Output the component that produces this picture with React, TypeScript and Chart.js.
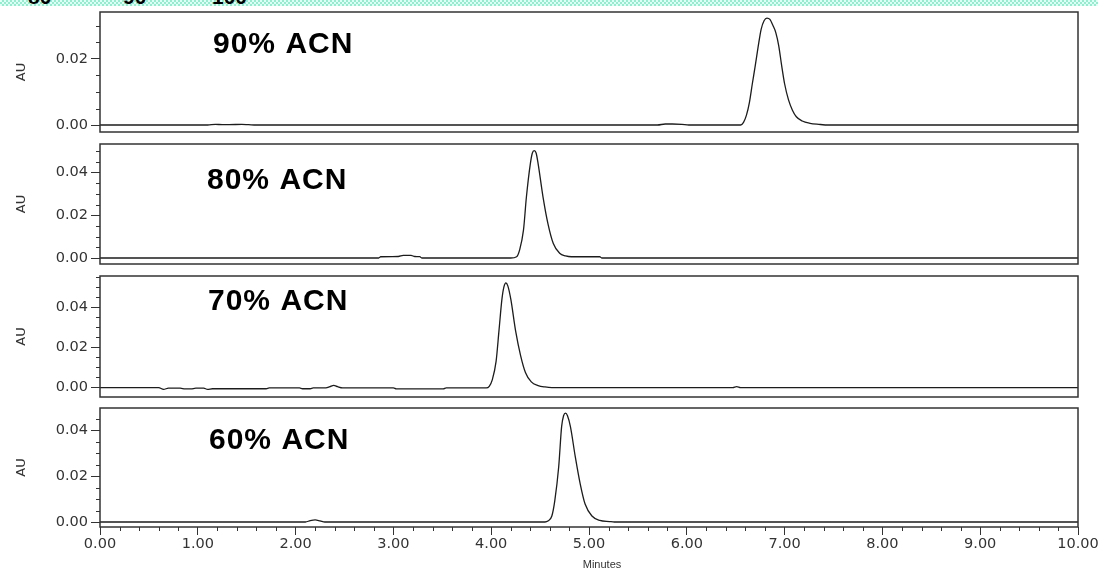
import React, { useEffect, useRef } from 'react';
import { Chart, registerables } from 'chart.js';

Chart.register(...registerables);

// Chromatogram traces: retention time (min) and absorbance (AU)
const acn90Minutes = [0, 1.10, 1.18, 1.25, 1.32, 1.45, 1.52, 1.60, 5.70, 5.78, 5.85, 5.95, 6.02, 6.55, 6.58, 6.61, 6.64, 6.67, 6.70, 6.73, 6.76, 6.79, 6.82, 6.85, 6.88, 6.91, 6.94, 6.97, 7.00, 7.04, 7.08, 7.12, 7.18, 7.26, 7.35, 7.45, 10];
const acn90AU = [0, 0, 0.0002, 0.0001, 0.0001, 0.0002, 0.0001, 0, 0, 0.0003, 0.0003, 0.0002, 0, 0, 0.0008, 0.0030, 0.0068, 0.0125, 0.0180, 0.0238, 0.0290, 0.0316, 0.0324, 0.0320, 0.0302, 0.0280, 0.0240, 0.0180, 0.0125, 0.0076, 0.0045, 0.0025, 0.0012, 0.0005, 0.0002, 0, 0];

const acn80Minutes = [0, 2.85, 2.87, 3.05, 3.10, 3.18, 3.22, 3.27, 3.29, 4.20, 4.26, 4.29, 4.33, 4.36, 4.40, 4.42, 4.44, 4.46, 4.48, 4.53, 4.58, 4.635, 4.70, 4.76, 4.82, 5.11, 5.13, 10];
const acn80AU = [0, 0, 0.0006, 0.0007, 0.0012, 0.0012, 0.0007, 0.0006, 0, 0, 0.0006, 0.0037, 0.0130, 0.0285, 0.0440, 0.0490, 0.0502, 0.0490, 0.0440, 0.0285, 0.0161, 0.0068, 0.0022, 0.0010, 0.0006, 0.0006, 0, 0];

const acn70Minutes = [0, 0.60, 0.65, 0.70, 0.82, 0.87, 0.93, 0.98, 1.06, 1.10, 1.15, 1.70, 1.73, 2.04, 2.07, 2.15, 2.18, 2.31, 2.35, 2.39, 2.43, 2.48, 3.00, 3.03, 3.51, 3.54, 3.95, 3.98, 4.01, 4.05, 4.08, 4.11, 4.13, 4.15, 4.17, 4.20, 4.25, 4.30, 4.35, 4.41, 4.48, 4.55, 4.62, 6.47, 6.51, 6.55, 10];
const acn70AU = [0, 0, -0.0009, -0.0003, -0.0003, -0.0007, -0.0007, -0.0003, -0.0003, -0.0009, -0.0006, -0.0006, -0.0002, -0.0002, -0.0006, -0.0006, -0.0002, -0.0002, 0.0004, 0.0011, 0.0004, -0.0002, -0.0002, -0.0007, -0.0007, -0.0002, -0.0002, 0.0006, 0.0037, 0.0130, 0.0285, 0.0440, 0.0500, 0.0520, 0.0505, 0.0440, 0.0280, 0.0160, 0.0075, 0.0028, 0.0010, 0.0003, 0, 0, 0.0005, 0, 0];

const acn60Minutes = [0, 2.10, 2.15, 2.20, 2.25, 2.30, 4.55, 4.58, 4.62, 4.65, 4.69, 4.72, 4.74, 4.76, 4.78, 4.81, 4.86, 4.91, 4.96, 5.03, 5.11, 5.21, 5.26, 10];
const acn60AU = [0, 0, 0.0006, 0.0009, 0.0005, 0, 0, 0.0004, 0.0026, 0.0092, 0.0239, 0.0415, 0.0462, 0.0473, 0.0462, 0.0415, 0.0283, 0.0166, 0.0078, 0.0026, 0.0007, 0.0002, 0, 0];

const panelTitles = ['90% ACN', '80% ACN', '70% ACN', '60% ACN'];
const headerMarks = ['80', '90', '100'];
const xAxisTitle = 'Minutes';
const yAxisTitle = 'AU';

// Axis ticks
const minuteMajorStep = 1;
const minuteMinorTicks = [0.2, 0.4, 0.6, 0.8, 1.2, 1.4, 1.6, 1.8, 2.2, 2.4, 2.6, 2.8, 3.2, 3.4, 3.6, 3.8, 4.2, 4.4, 4.6, 4.8, 5.2, 5.4, 5.6, 5.8, 6.2, 6.4, 6.6, 6.8, 7.2, 7.4, 7.6, 7.8, 8.2, 8.4, 8.6, 8.8, 9.2, 9.4, 9.6, 9.8];
const auMajorStep = 0.02;
const auMinorTicks = [0.005, 0.01, 0.015, 0.025, 0.03, 0.035, 0.045, 0.05, 0.055];

const W = 1098;
const H = 572;
const AREA_LEFT = 100;
const AREA_RIGHT = 1078;
const INK = '#333333';

type PanelCfg = {
  title: string;
  minutes: number[];
  au: number[];
  yMin: number;
  yMax: number;
  top: number;
  bottom: number;
  titleX: number;
  titleBaseline: number;
};

const panels: PanelCfg[] = [
  { title: panelTitles[0], minutes: acn90Minutes, au: acn90AU, yMin: -0.00212, yMax: 0.03424, top: 12, bottom: 132, titleX: 213, titleBaseline: 53 },
  { title: panelTitles[1], minutes: acn80Minutes, au: acn80AU, yMin: -0.0028, yMax: 0.0533, top: 144, bottom: 264, titleX: 207, titleBaseline: 189 },
  { title: panelTitles[2], minutes: acn70Minutes, au: acn70AU, yMin: -0.0047, yMax: 0.0554, top: 276, bottom: 397, titleX: 208, titleBaseline: 310 },
  { title: panelTitles[3], minutes: acn60Minutes, au: acn60AU, yMin: -0.00217, yMax: 0.04957, top: 408, bottom: 527, titleX: 209, titleBaseline: 449 },
];
const headerMarkX = [28, 123, 212];
const xTitleCenter = 602;
const xTitleMiddle = 565;

const PAD = 6;

function framePlugin(title: string, titleX: number, titleBaseline: number, canvasTop: number) {
  return {
    id: 'frame',
    afterDraw(chart: any) {
      const { ctx, chartArea } = chart;
      const { left, top, right, bottom } = chartArea;
      ctx.save();
      ctx.strokeStyle = INK;
      ctx.lineWidth = 1.5;
      ctx.strokeRect(left, top, right - left, bottom - top);

      // minor ticks
      ctx.lineWidth = 1;
      ctx.beginPath();
      const y = chart.scales.y;
      for (const v of auMinorTicks) {
        const py = Math.round(y.getPixelForValue(v)) + 0.5;
        if (py < top || py > bottom) continue;
        ctx.moveTo(left - 4, py);
        ctx.lineTo(left, py);
      }
      const x = chart.scales.x;
      if (x.options.display) {
        for (const v of minuteMinorTicks) {
          const px = Math.round(x.getPixelForValue(v)) + 0.5;
          ctx.moveTo(px, bottom);
          ctx.lineTo(px, bottom + 4);
        }
      }
      ctx.stroke();

      // x-axis title
      if (x.options.display) {
        ctx.fillStyle = INK;
        ctx.font = '11px "Liberation Sans", Arial, sans-serif';
        ctx.textAlign = 'center';
        ctx.textBaseline = 'middle';
        ctx.fillText(xAxisTitle, xTitleCenter, xTitleMiddle - canvasTop);
      }

      // panel caption
      ctx.fillStyle = '#000000';
      ctx.font = 'bold 30px "Liberation Sans", Arial, sans-serif';
      (ctx as any).letterSpacing = '1px';
      ctx.textBaseline = 'alphabetic';
      ctx.textAlign = 'left';
      ctx.fillText(title, titleX, titleBaseline - canvasTop);
      ctx.restore();
    },
  };
}

function Panel({ cfg, last }: { cfg: PanelCfg; last: boolean }) {
  const ref = useRef<HTMLCanvasElement>(null);
  const canvasTop = cfg.top - PAD;
  const canvasHeight = (last ? H : cfg.bottom + PAD) - canvasTop;

  useEffect(() => {
    const points = cfg.minutes.map((m, i) => ({ x: m, y: cfg.au[i] }));
    const chart = new Chart(ref.current as HTMLCanvasElement, {
      type: 'line',
      data: {
        datasets: [
          {
            data: points,
            borderColor: '#1c1c1c',
            borderWidth: 1.3,
            pointRadius: 0,
            fill: false,
            cubicInterpolationMode: 'monotone',
          },
        ],
      },
      options: {
        responsive: false,
        maintainAspectRatio: false,
        animation: false,
        events: [],
        layout: {
          autoPadding: false,
          padding: { left: 0, right: W - AREA_RIGHT, top: PAD, bottom: last ? 0 : PAD },
        },
        plugins: { legend: { display: false }, tooltip: { enabled: false } },
        scales: {
          x: {
            type: 'linear',
            display: last,
            min: 0,
            max: 10,
            grid: { drawOnChartArea: false, drawTicks: true, tickLength: 8, color: INK, lineWidth: 1 },
            border: { display: false },
            ticks: {
              stepSize: minuteMajorStep,
              includeBounds: false,
              maxRotation: 0,
              autoSkip: false,
              padding: 1,
              color: INK,
              font: { family: '"DejaVu Sans", sans-serif', size: 14.5 },
              callback: (v: any) => Number(v).toFixed(2),
            },
            afterFit: (s: any) => {
              s.height = last ? canvasHeight - PAD - (cfg.bottom - cfg.top) : 0;
              s.paddingLeft = 0;
              s.paddingRight = 0;
            },
          },
          y: {
            type: 'linear',
            min: cfg.yMin,
            max: cfg.yMax,
            grid: { drawOnChartArea: false, drawTicks: true, tickLength: 9, color: INK, lineWidth: 1 },
            border: { display: false },
            ticks: {
              stepSize: auMajorStep,
              includeBounds: false,
              padding: 3,
              color: INK,
              font: { family: '"DejaVu Sans", sans-serif', size: 14.5 },
              callback: (v: any) => Number(v).toFixed(2),
            },
            title: {
              display: true,
              text: yAxisTitle,
              color: INK,
              font: { family: '"DejaVu Sans", sans-serif', size: 13 },
              padding: { top: 14, bottom: 0 },
            },
            afterFit: (s: any) => {
              s.width = AREA_LEFT;
              s.paddingTop = 0;
              s.paddingBottom = 0;
            },
          },
        },
      },
      plugins: [framePlugin(cfg.title, cfg.titleX, cfg.titleBaseline, canvasTop)],
    } as any);
    return () => chart.destroy();
  }, []);

  return (
    <canvas
      ref={ref}
      width={W}
      height={canvasHeight}
      style={{ position: 'absolute', left: 0, top: canvasTop, width: W, height: canvasHeight }}
    />
  );
}

export default function App() {
  return (
    <div style={{ position: 'fixed', left: 0, top: 0, width: W, height: H, background: '#ffffff', overflow: 'hidden' }}>
      <div
        style={{
          position: 'absolute',
          left: 0,
          top: 0,
          width: W,
          height: 6,
          background: 'repeating-conic-gradient(#8fefcf 0 25%, #e4fff5 0 50%) 0 0 / 4px 4px',
        }}
      />
      {headerMarks.map((t, i) => (
        <div
          key={t}
          style={{
            position: 'absolute',
            left: headerMarkX[i],
            top: -14,
            font: 'bold 21px "Liberation Sans", Arial, sans-serif',
            lineHeight: '21px',
            color: '#000',
          }}
        >
          {t}
        </div>
      ))}
      {panels.map((p, i) => (
        <Panel key={p.title} cfg={p} last={i === panels.length - 1} />
      ))}
    </div>
  );
}
